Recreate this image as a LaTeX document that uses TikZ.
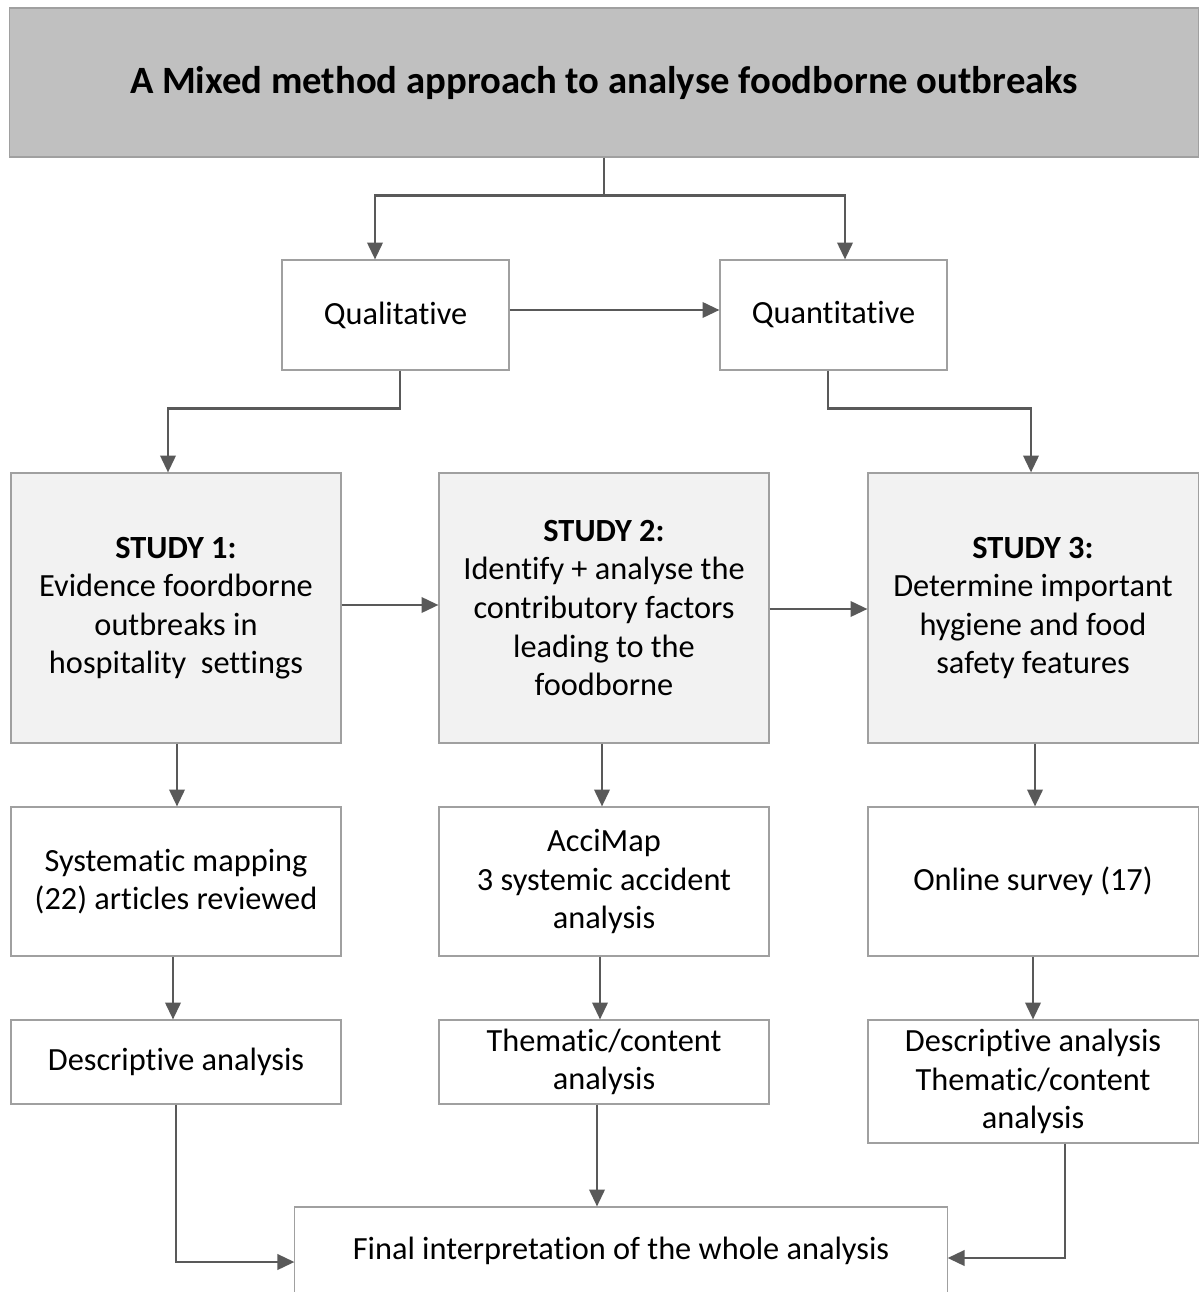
\documentclass[tikz,border=0pt]{standalone}
\usepackage{fontspec}
\setmainfont{Carlito}[RawFeature={-liga;-clig;-calt}]
\usetikzlibrary{arrows.meta,calc}
\definecolor{boxline}{HTML}{A0A0A0}
\definecolor{connline}{HTML}{595959}
\definecolor{titlefill}{HTML}{C0C0C0}
\definecolor{studyfill}{HTML}{F2F2F2}
\begin{document}
\begin{tikzpicture}[x=0.025cm,y=-0.025cm,
  box/.style={draw=boxline,line width=0.8pt,fill=white,align=center,inner sep=2pt,
    font=\fontsize{23}{27.4}\selectfont},
  smallbox/.style={box,minimum width=5.675cm,minimum height=2.75cm},
  colbox/.style={box,minimum width=8.25cm},
  studybox/.style={colbox,fill=studyfill,minimum height=6.75cm},
  conn/.style={draw=connline,line width=1.6pt,-{Triangle[length=12pt,width=11pt]}},
  link/.style={draw=connline,line width=1.6pt}]
\useasboundingbox (0,0) rectangle (1202,1292);

% heading
\node[box,fill=titlefill,minimum width=29.7cm,minimum height=3.725cm,
  font=\fontsize{27.5}{33}\selectfont\bfseries] (title) at (604,82.5)
  {A Mixed method approach to analyse foodborne outbreaks};

% the two research strands
\node[smallbox] (qual) at (395.5,315) {Qualitative};
\node[smallbox] (quant) at (833.5,315) {Quantitative};

% the three studies
\node[studybox] (s1) at (176,608)
  {\textbf{STUDY 1:}\\Evidence foordborne\\outbreaks in\\hospitality\ \ settings};
\node[studybox] (s2) at (604,608)
  {\textbf{STUDY 2:}\\Identify + analyse the\\contributory factors\\leading to the\\foodborne};
\node[studybox] (s3) at (1033,608)
  {\textbf{STUDY 3:}\\Determine important\\hygiene and food\\safety features};

% methods
\node[colbox,minimum height=3.725cm] (sys) at (176,881.5)
  {Systematic mapping\\(22) articles reviewed};
\node[colbox,minimum height=3.725cm] (acc) at (604,881.5)
  {AcciMap\\3 systemic accident\\analysis};
\node[colbox,minimum height=3.725cm] (onl) at (1033,881.5)
  {Online survey (17)};

% analyses
\node[colbox,minimum height=2.1cm] (des) at (176,1062) {Descriptive analysis};
\node[colbox,minimum height=2.1cm] (the) at (604,1062) {Thematic/content\\analysis};
\node[colbox,minimum height=3.075cm] (dt) at (1033,1081.5)
  {Descriptive analysis\\Thematic/content\\analysis};

% synthesis
\node[box,minimum width=16.3cm,minimum height=2.175cm] (fin) at (621,1250.5)
  {Final interpretation of the whole analysis};

% connectors
\draw[link] (title.south) -- ++(0,38) coordinate (split);
\draw[conn] (split) -| ($(qual.north)+(-20.5,0)$);
\draw[conn] (split) -| ($(quant.north)+(11.5,0)$);
\draw[conn] ($(qual.east)+(0,-5)$) -- ($(quant.west)+(0,-5)$);
\draw[conn] ($(qual.south)+(4.5,0)$) -- ++(0,38) -| ($(s1.north)+(-8,0)$);
\draw[conn] ($(quant.south)+(-5.5,0)$) -- ++(0,38) -| ($(s3.north)+(-2,0)$);
\draw[conn] ($(s1.east)+(0,-3)$) -- ($(s2.west)+(0,-3)$);
\draw[conn] ($(s2.east)+(0,1)$) -- ($(s3.west)+(0,1)$);
\draw[conn] ($(s1.south)+(1,0)$) -- ($(sys.north)+(1,0)$);
\draw[conn] ($(s2.south)+(-2,0)$) -- ($(acc.north)+(-2,0)$);
\draw[conn] ($(s3.south)+(2,0)$) -- ($(onl.north)+(2,0)$);
\draw[conn] ($(sys.south)+(-3,0)$) -- ($(des.north)+(-3,0)$);
\draw[conn] ($(acc.south)+(-4,0)$) -- ($(the.north)+(-4,0)$);
\draw[conn] (onl.south) -- (dt.north);
\draw[conn] (des.south) |- ($(fin.west)+(0,11.5)$);
\draw[conn] ($(the.south)+(-7,0)$) -- ($(fin.north)+(-24,0)$);
\draw[conn] ($(dt.south)+(32,0)$) |- ($(fin.east)+(0,7.5)$);
\end{tikzpicture}
\end{document}
